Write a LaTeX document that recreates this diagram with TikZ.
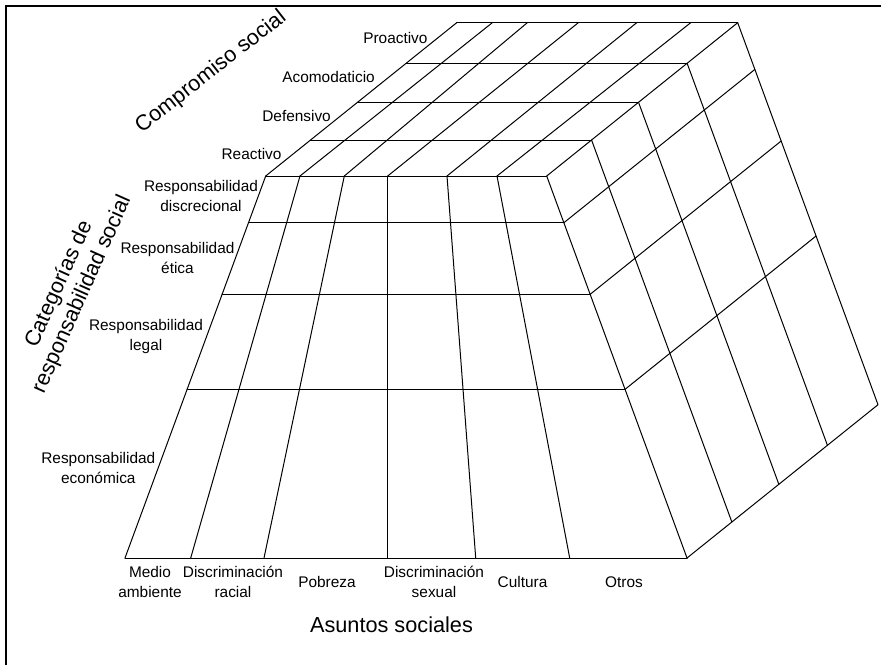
\documentclass[tikz,border=0pt]{standalone}
\usepackage{fontspec}
\setmainfont{Liberation Sans}
\usetikzlibrary{calc}
\begin{document}
\begin{tikzpicture}[x=1pt,y=-1pt,
  grid/.style={line width=1pt, line cap=round, line join=round},
  frame/.style={line width=2.6pt},
  lbl/.style={font=\fontsize{15.4}{20}\selectfont, inner sep=0pt, align=center},
  axis/.style={font=\fontsize{21.7}{25}\selectfont, inner sep=0pt, align=center}]
\useasboundingbox (0,0) rectangle (881,665);
% outer frame
\coordinate (frameBL) at (6,665);
\coordinate (frameTL) at (6,6);
\coordinate (frameTR) at (881,6);
\draw[frame] (frameBL) -- (frameTL) -- (frameTR);

% front face: top and bottom column points
\coordinate (ft0) at (265.7,176); \coordinate (fb0) at (125,558);
\coordinate (ft1) at (300,176);   \coordinate (fb1) at (190.7,558);
\coordinate (ft2) at (344.3,176); \coordinate (fb2) at (264,558);
\coordinate (ft3) at (387.7,176); \coordinate (fb3) at (387.7,558);
\coordinate (ft4) at (447,176);   \coordinate (fb4) at (475.7,558);
\coordinate (ft5) at (497,176);   \coordinate (fb5) at (569.7,558);
\coordinate (ft6) at (546.7,176); \coordinate (fb6) at (687,558);
% top face: back row
\coordinate (tb0) at (456.7,22.7);
\coordinate (tb1) at (492.3,22.7);
\coordinate (tb2) at (527.3,22.7);
\coordinate (tb3) at (578.3,22.7);
\coordinate (tb4) at (636.7,22.7);
\coordinate (tb5) at (690.7,22.7);
\coordinate (tb6) at (737.7,22.7);
% right face: back bottom corner
\coordinate (bb) at (878,404.7);

% front face outline and columns
\draw[grid] (ft0) -- (ft6);
\draw[grid] (fb0) -- (fb6);
\foreach \i in {0,...,6} { \draw[grid] (ft\i) -- (fb\i); }
% front face rows (social responsibility categories)
\foreach \t in {0.1223,0.3097,0.5584} {
  \draw[grid] ($(ft0)!\t!(fb0)$) -- ($(ft6)!\t!(fb6)$);
}
% top face
\draw[grid] (tb0) -- (tb6);
\foreach \i in {0,...,6} { \draw[grid] (ft\i) -- (tb\i); }
\foreach \s in {0.2348,0.4808,0.7352} {
  \draw[grid] ($(ft0)!\s!(tb0)$) -- ($(ft6)!\s!(tb6)$);
}
% right face
\draw[grid] (tb6) -- (bb) -- (fb6);
\foreach \s in {0.2348,0.4808,0.7352} {
  \draw[grid] ($(ft6)!\s!(tb6)$) -- ($(fb6)!\s!(bb)$);
}
\foreach \t in {0.1223,0.3097,0.5584} {
  \draw[grid] ($(ft6)!\t!(fb6)$) -- ($(tb6)!\t!(bb)$);
}

% social commitment levels
\node[lbl, anchor=east] (proactivo) at (427.7,38) {Proactivo};
\node[lbl, anchor=east] (acomodaticio) at (375,77) {Acomodaticio};
\node[lbl, anchor=east] (defensivo) at (331,115.5) {Defensivo};
\node[lbl, anchor=east] (reactivo) at (281.7,153.5) {Reactivo};

% responsibility categories
\node[lbl] (discrecional) at (201,196) {Responsabilidad\\discrecional};
\node[lbl] (etica) at (177.5,258.3) {Responsabilidad\\ética};
\node[lbl] (legal) at (146,337) {Responsabilidad\\legal};
\node[lbl] (economica) at (98.3,468.3) {Responsabilidad\\económica};

% social issues
\node[lbl] (medio) at (150,581.5) {Medio\\ambiente};
\node[lbl] (racial) at (233,581.5) {Discriminación\\racial};
\node[lbl] (pobreza) at (327,581.7) {Pobreza};
\node[lbl] (sexual) at (434,581.5) {Discriminación\\sexual};
\node[lbl] (cultura) at (522.5,581.7) {Cultura};
\node[lbl] (otros) at (624,581.7) {Otros};

% axis titles
\node[axis] (asuntos) at (391.5,625) {Asuntos sociales};
\node[axis, rotate=38] (compromiso) at (211,72) {Compromiso social};
\node[axis, rotate=66] (categorias) at (70.7,289.3) {Categorías de\\responsabilidad social};
\end{tikzpicture}
\end{document}
